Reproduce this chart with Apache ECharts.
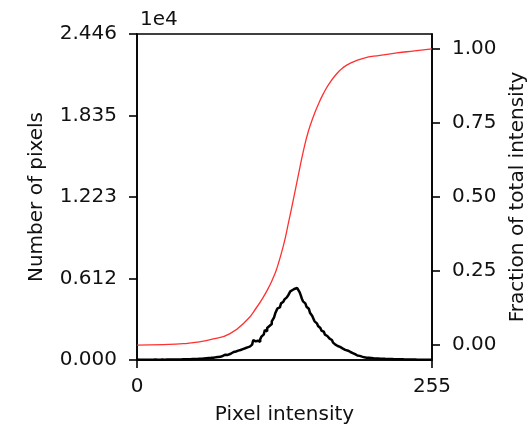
<!DOCTYPE html>
<html>
<head>
<meta charset="utf-8">
<script src="https://cdn.jsdelivr.net/npm/echarts@6/dist/echarts.min.js"></script>
<style>
html,body{margin:0;padding:0;background:#fff;}
#chart{width:527px;height:428px;}
</style>
</head>
<body>
<div id="chart"></div>
<script>
// Histogram counts for pixel intensity bins 0..255
const histCounts = [
  30, 25, 20, 15, 20, 25, 20, 15, 18, 22,
  20, 25, 22, 18, 20, 25, 30, 22, 20, 25,
  28, 25, 30, 35, 28, 30, 32, 35, 30, 38,
  35, 40, 38, 42, 40, 45, 42, 48, 45, 50,
  52, 55, 50, 58, 60, 62, 58, 65, 70, 68,
  75, 80, 78, 85, 90, 95, 100, 110, 120, 130,
  135, 140, 150, 145, 160, 170, 175, 185, 200, 210,
  230, 260, 240, 290, 320, 300, 350, 400, 380, 450,
  500, 470, 540, 600, 560, 640, 620, 700, 680, 750,
  780, 740, 820, 880, 850, 950, 900, 1000, 1080, 1150,
  1250, 1500, 1400, 1300, 1450, 1600, 1370, 1550, 1750, 1900,
  2000, 2250, 2150, 2400, 2550, 2450, 2700, 2900, 2850, 3200,
  3500, 3700, 3870, 3950, 4100, 4250, 4370, 4400, 4550, 4700,
  4850, 4900, 5050, 5150, 5100, 5250, 5300, 5350, 5300, 5400,
  5350, 5100, 4870, 4600, 4400, 4250, 4100, 4000, 3850, 3700,
  3550, 3500, 3300, 3100, 2900, 2750, 2650, 2550, 2400, 2300,
  2200, 2120, 2000, 1900, 1800, 1700, 1650, 1600, 1500, 1400,
  1300, 1250, 1150, 1100, 1050, 980, 920, 880, 850, 800,
  760, 740, 700, 650, 600, 560, 520, 480, 440, 400,
  375, 340, 310, 280, 250, 220, 200, 185, 175, 165,
  160, 150, 145, 140, 130, 125, 120, 115, 110, 105,
  100, 95, 92, 90, 85, 82, 80, 78, 75, 72,
  70, 68, 65, 62, 60, 58, 56, 55, 52, 50,
  48, 46, 45, 44, 42, 40, 38, 36, 35, 34,
  32, 30, 28, 27, 26, 25, 24, 22, 20, 18,
  16, 15, 14, 12, 10, 8
];

// Cumulative fraction of total intensity (sampled intensities)
const cdfIntensity = [0, 22.7, 40, 52, 66, 80, 94.6, 103.5, 109.2, 114.9, 117.8, 120.8, 126.5, 131, 135.1, 139.5, 143.8, 148, 152.4, 157, 161, 166, 172.6, 178, 184.1, 195.6, 210, 224.5, 240, 255];
const cdfFraction  = [0.0, 0.002, 0.005, 0.01, 0.021, 0.038, 0.083, 0.128, 0.162, 0.203, 0.228, 0.258, 0.335, 0.414, 0.49, 0.575, 0.655, 0.72, 0.771, 0.815, 0.848, 0.882, 0.916, 0.936, 0.951, 0.968, 0.978, 0.986, 0.993, 1.0];

// Tick labels
const leftTickLabels = ['0.000', '0.612', '1.223', '1.835', '2.446'];
const leftTickStep = 6115;
const leftMax = 24460;
const rightTicks = [0, 0.25, 0.5, 0.75, 1.0];

const histData = histCounts.map((c, i) => [i, c]);
const cdfData = cdfIntensity.map((x, i) => [x, cdfFraction[i]]);

const FONT = 'DejaVu Sans';
const TXT = '#111';

const chart = echarts.init(document.getElementById('chart'), null, {renderer: 'canvas'});
chart.setOption({
  animation: false,
  backgroundColor: '#fff',
  textStyle: {fontFamily: FONT},
  grid: {left: 137, right: 95, top: 34, bottom: 68, show: true, borderColor: '#000', borderWidth: 1.6,
         containLabel: false, outerBoundsMode: 'none'},
  graphic: [{
    type: 'text', left: 140, top: 10,
    style: {text: '1e4', font: '20px "DejaVu Sans"', fill: TXT}
  }],
  xAxis: {
    type: 'value', min: 0, max: 255, interval: 255,
    name: 'Pixel intensity', nameLocation: 'middle', nameGap: 45,
    nameTextStyle: {fontSize: 20, color: TXT, fontFamily: FONT},
    axisLine: {show: true, lineStyle: {color: '#000', width: 1.6}},
    axisTick: {show: true, length: 8, lineStyle: {color: '#000', width: 1.6}},
    axisLabel: {fontSize: 20, color: TXT, margin: 17, fontFamily: FONT, showMaxLabel: true, showMinLabel: true},
    splitLine: {show: false}
  },
  yAxis: [{
    type: 'value', min: 0, max: leftMax, interval: leftTickStep, position: 'left',
    name: 'Number of pixels', nameLocation: 'middle', nameGap: 90, nameRotate: 90,
    nameTextStyle: {fontSize: 20, color: TXT, fontFamily: FONT},
    axisLine: {show: true, lineStyle: {color: '#000', width: 1.6}},
    axisTick: {show: true, length: 8, lineStyle: {color: '#000', width: 1.6}},
    axisLabel: {fontSize: 20, color: TXT, margin: 20, fontFamily: FONT,
      formatter: v => leftTickLabels[Math.round(v / leftTickStep)] || ''},
    splitLine: {show: false}
  }, {
    type: 'value', min: -0.05, max: 1.05, position: 'right',
    name: 'Fraction of total intensity', nameLocation: 'middle', nameGap: 72, nameRotate: 90,
    nameTextStyle: {fontSize: 20, color: TXT, fontFamily: FONT},
    axisLine: {show: true, lineStyle: {color: '#000', width: 1.6}},
    axisTick: {show: true, length: 8, customValues: rightTicks, lineStyle: {color: '#000', width: 1.6}},
    axisLabel: {fontSize: 20, color: TXT, margin: 20, fontFamily: FONT, customValues: rightTicks,
      formatter: v => v.toFixed(2)},
    splitLine: {show: false}
  }],
  series: [{
    type: 'line', yAxisIndex: 0, data: histData, step: 'middle',
    showSymbol: false, symbol: 'none',
    lineStyle: {color: '#000', width: 2.5}, z: 3
  }, {
    type: 'line', yAxisIndex: 1, data: cdfData, smooth: 0.5,
    showSymbol: false, symbol: 'none',
    lineStyle: {color: '#ff3030', width: 1.3}, z: 2
  }]
});
</script>
</body>
</html>
